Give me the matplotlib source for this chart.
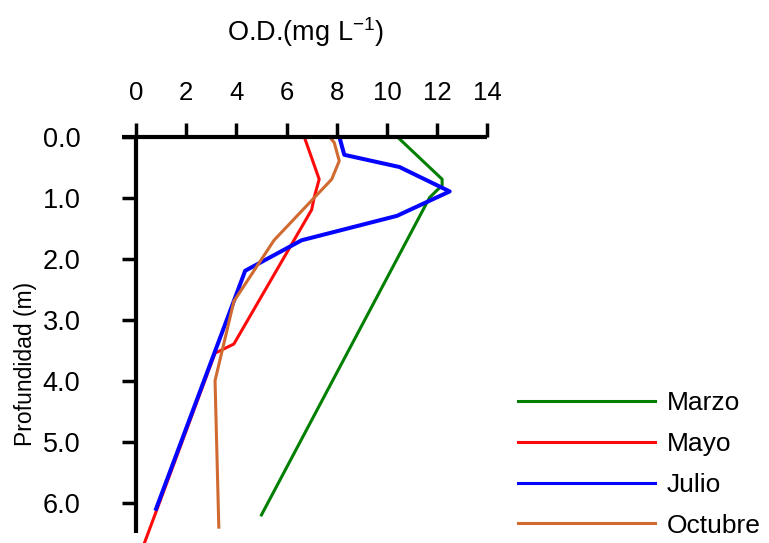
import matplotlib
matplotlib.use("Agg")
import matplotlib.pyplot as plt

# Perfiles de oxigeno disuelto (mg/L) contra profundidad (m)
marzo_od = [10.4, 12.2, 12.2, 11.7, 5.0]
marzo_prof = [0.0, 0.7, 0.8, 1.0, 6.2]

mayo_od = [6.7, 7.3, 7.1, 7.0, 3.9, 3.15, 0.3]
mayo_prof = [0.0, 0.7, 1.0, 1.2, 3.4, 3.55, 6.7]

julio_od = [8.1, 8.3, 10.5, 12.5, 10.4, 6.6, 4.35, 0.8]
julio_prof = [0.0, 0.3, 0.5, 0.9, 1.3, 1.7, 2.2, 6.1]

octubre_od = [7.7, 7.9, 8.1, 7.8, 5.5, 3.9, 3.15, 3.3]
octubre_prof = [0.0, 0.1, 0.4, 0.7, 1.7, 2.7, 4.0, 6.4]

x_ticks = [0, 2, 4, 6, 8, 10, 12, 14]
y_ticks = [0, 1, 2, 3, 4, 5, 6]

plt.rcParams['font.family'] = ['Liberation Sans', 'DejaVu Sans']
plt.rcParams['mathtext.default'] = 'regular'

fig = plt.figure(figsize=(7.69, 5.43), dpi=100)
ax = fig.add_axes([121.7 / 769, 0, 365.6 / 769, 1 - 136.5 / 543])

ax.plot(marzo_od, marzo_prof, color='#007f00', lw=2.2, label='Marzo')
ax.plot(mayo_od, mayo_prof, color='#ff0a0a', lw=2.2, label='Mayo')
ax.plot(julio_od, julio_prof, color='#0505ff', lw=2.9, label='Julio')
ax.plot(octubre_od, octubre_prof, color='#d06a30', lw=2.2, label='Octubre')

ax.set_xlim(-0.57, 14)
ax.set_ylim(6.66, 0)

# ejes tipo "cruz": eje x arriba, eje y en x=0
ax.spines['bottom'].set_visible(False)
ax.spines['right'].set_visible(False)
ax.spines['left'].set_position(('data', 0))
ax.spines['left'].set_bounds(0, 6.5)
for s in ('top', 'left'):
    ax.spines[s].set_linewidth(3)
    ax.spines[s].set_capstyle('butt')

ax.xaxis.set_ticks_position('top')
ax.xaxis.set_label_position('top')
ax.set_xticks(x_ticks)
ax.set_xticklabels([str(v) for v in x_ticks])
ax.set_yticks(y_ticks)
ax.set_yticklabels(['%.1f' % v for v in y_ticks])
ax.tick_params(axis='x', direction='out', length=10, width=2.5, labelsize=18.5, pad=13)
ax.tick_params(axis='y', direction='out', length=10, width=2.5, labelsize=19.5, pad=30)

fig.text(305.5 / 769, 1 - 32 / 543, 'O.D.(mg L$^{-1}$)', ha='center', va='center', fontsize=19.5)
fig.text(26 / 769, 1 - 364 / 543, 'Profundidad (m)', ha='center', va='center',
         rotation=90, fontsize=16.5)

leg = ax.legend(loc='upper left', bbox_to_anchor=(518 / 769, 1 - 391 / 543),
                bbox_transform=fig.transFigure, frameon=False, fontsize=19,
                handlelength=5.2, handletextpad=0.45, labelspacing=0.64,
                borderaxespad=0, borderpad=0)
for line in leg.get_lines():
    line.set_linewidth(2.2)

fig.savefig('out.png', dpi=100)
